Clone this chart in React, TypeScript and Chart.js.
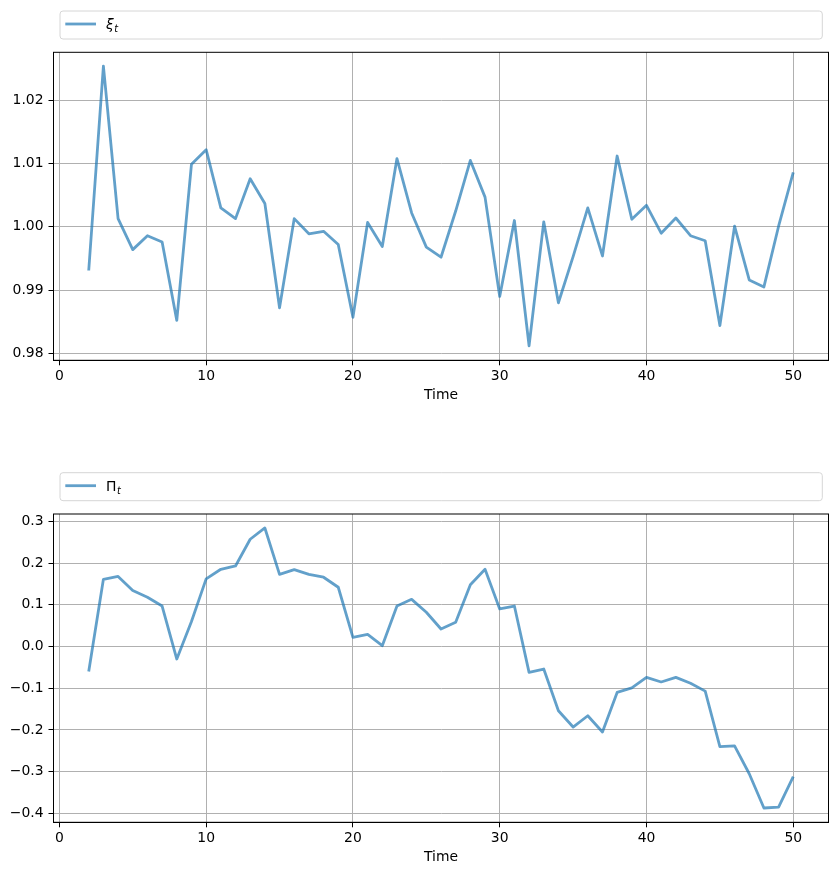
import React, { useEffect, useRef } from "react";
import { Chart, registerables } from "chart.js";

Chart.register(...registerables);

// ---------- data ----------
const timeSteps = [
  2, 3, 4, 5, 6, 7, 8, 9, 10, 11, 12, 13, 14, 15, 16, 17, 18, 19, 20, 21, 22, 23, 24, 25, 26,
  27, 28, 29, 30, 31, 32, 33, 34, 35, 36, 37, 38, 39, 40, 41, 42, 43, 44, 45, 46, 47, 48, 49, 50,
];

const xiValues = [
  0.9931, 1.0254, 1.0013, 0.9964, 0.9986, 0.9976, 0.9852, 1.0099, 1.0122, 1.003, 1.0013, 1.0076,
  1.0037, 0.9872, 1.0013, 0.9989, 0.9993, 0.9972, 0.9857, 1.0007, 0.9969, 1.0108, 1.0022, 0.9968,
  0.9952, 1.0025, 1.0105, 1.0047, 0.989, 1.001, 0.9812, 1.0008, 0.988, 0.9953, 1.003, 0.9954,
  1.0112, 1.0012, 1.0034, 0.999, 1.0014, 0.9986, 0.9978, 0.9844, 1.0001, 0.9916, 0.9905, 1.0001,
  1.0086,
];

const piValues = [
  -0.06, 0.161, 0.168, 0.134, 0.118, 0.097, -0.03, 0.06, 0.162, 0.185, 0.193, 0.257, 0.284, 0.173,
  0.184, 0.173, 0.166, 0.142, 0.022, 0.029, 0.002, 0.097, 0.113, 0.082, 0.042, 0.058, 0.148, 0.185,
  0.09, 0.097, -0.062, -0.054, -0.154, -0.193, -0.166, -0.205, -0.11, -0.099, -0.074, -0.085,
  -0.074, -0.088, -0.107, -0.24, -0.238, -0.305, -0.387, -0.385, -0.312,
];

const xTickValues = [0, 10, 20, 30, 40, 50];
const xiTickValues = [0.98, 0.99, 1.0, 1.01, 1.02];
const piTickValues = [-0.4, -0.3, -0.2, -0.1, 0.0, 0.1, 0.2, 0.3];

const xAxisTitle = "Time";

// ---------- styling ----------
const FONT = '"DejaVu Sans", "Liberation Sans", sans-serif';
const FONT_SIZE = 13.9;
const LINE_COLOR = "rgba(31,119,180,0.7)";

type PanelProps = {
  values: number[];
  yTicks: number[];
  yMin: number;
  yMax: number;
  decimals: number;
  legendMain: string;
  legendItalic: boolean;
  canvasTop: number;
  canvasHeight: number;
  padTop: number;
  xAxisHeight: number;
  titlePadBottom: number;
};

const fmt = (v: number, d: number) => {
  const s = Math.abs(v).toFixed(d);
  return v < -1e-9 ? "\u2212" + s : s;
};

function Panel(p: PanelProps) {
  const ref = useRef<HTMLCanvasElement | null>(null);

  useEffect(() => {
    if (!ref.current) return;

    const framePlugin = {
      id: "frameAndLegend",
      afterDraw(chart: any) {
        const ctx = chart.ctx as CanvasRenderingContext2D;
        const { left, right, top, bottom } = chart.chartArea;
        ctx.save();
        // spines
        ctx.strokeStyle = "#000";
        ctx.lineWidth = 1;
        ctx.strokeRect(left, top, right - left, bottom - top);

        // legend box
        const bx = left + 6.5;
        const bw = right - 6.2 - bx;
        const by = top - 41.3;
        const bh = 28;
        ctx.beginPath();
        (ctx as any).roundRect(bx, by, bw, bh, 3);
        ctx.fillStyle = "rgba(255,255,255,0.8)";
        ctx.fill();
        ctx.strokeStyle = "#d6d6d6";
        ctx.lineWidth = 1;
        ctx.stroke();

        // legend line sample
        ctx.beginPath();
        ctx.moveTo(bx + 5.3, by + 13);
        ctx.lineTo(bx + 36, by + 13);
        ctx.strokeStyle = LINE_COLOR;
        ctx.lineWidth = 2.8;
        ctx.lineCap = "butt";
        ctx.stroke();

        // legend label with subscript t
        const tx = bx + 46;
        const ty = by + 18.3;
        ctx.fillStyle = "#000";
        ctx.textBaseline = "alphabetic";
        ctx.textAlign = "left";
        ctx.font = `${p.legendItalic ? "italic " : ""}${FONT_SIZE}px ${FONT}`;
        ctx.fillText(p.legendMain, tx, ty);
        const w = ctx.measureText(p.legendMain).width;
        ctx.font = `italic ${FONT_SIZE * 0.7}px ${FONT}`;
        ctx.fillText("t", tx + w + 0.5, ty + 2.6);
        ctx.restore();
      },
    };

    const chart = new Chart(ref.current, {
      type: "line",
      data: {
        datasets: [
          {
            data: timeSteps.map((t, i) => ({ x: t, y: p.values[i] })),
            borderColor: LINE_COLOR,
            borderWidth: 2.8,
            pointRadius: 0,
            borderJoinStyle: "round",
            borderCapStyle: "butt",
            tension: 0,
            fill: false,
          },
        ],
      },
      options: {
        responsive: false,
        animation: false,
        events: [],
        layout: { padding: { top: p.padTop, right: 9.5, left: 0, bottom: 0 } },
        plugins: {
          legend: { display: false },
          tooltip: { enabled: false },
          title: { display: false },
        },
        scales: {
          x: {
            type: "linear",
            min: -0.4,
            max: 52.4,
            afterBuildTicks: (axis: any) => {
              axis.ticks = xTickValues.map((v) => ({ value: v }));
            },
            afterFit: (scale: any) => {
              scale.height = p.xAxisHeight;
            },
            grid: {
              color: "#b0b0b0",
              lineWidth: 1,
              tickColor: "#000",
              tickLength: 5,
              drawTicks: true,
            },
            border: { display: true, color: "#000", width: 1 },
            ticks: {
              color: "#000",
              font: { family: FONT, size: FONT_SIZE },
              padding: 3,
              maxRotation: 0,
              autoSkip: false,
              callback: (v: any) => String(v),
            },
            title: {
              display: true,
              text: xAxisTitle,
              color: "#000",
              font: { family: FONT, size: FONT_SIZE },
              padding: { top: 0, bottom: p.titlePadBottom },
            },
          },
          y: {
            type: "linear",
            min: p.yMin,
            max: p.yMax,
            afterBuildTicks: (axis: any) => {
              axis.ticks = p.yTicks.map((v) => ({ value: v }));
            },
            afterFit: (scale: any) => {
              scale.width = 53.5;
            },
            grid: {
              color: "#b0b0b0",
              lineWidth: 1,
              tickColor: "#000",
              tickLength: 5,
              drawTicks: true,
            },
            border: { display: true, color: "#000", width: 1 },
            ticks: {
              color: "#000",
              font: { family: FONT, size: FONT_SIZE },
              padding: 5,
              autoSkip: false,
              callback: (v: any) => fmt(Number(v), p.decimals),
            },
          },
        },
      },
      plugins: [framePlugin],
    } as any);

    return () => chart.destroy();
  }, []);

  return (
    <canvas
      ref={ref}
      width={838}
      height={p.canvasHeight}
      style={{
        position: "absolute",
        left: 0,
        top: p.canvasTop,
        width: 838,
        height: p.canvasHeight,
        display: "block",
      }}
    />
  );
}

export default function App() {
  return (
    <div
      style={{
        position: "absolute",
        left: 0,
        top: 0,
        width: 838,
        height: 875,
        background: "#fff",
      }}
    >
      <Panel
        values={xiValues}
        yTicks={xiTickValues}
        yMin={0.9789}
        yMax={1.0276}
        decimals={2}
        legendMain={"\u03BE"}
        legendItalic={true}
        canvasTop={0}
        canvasHeight={440}
        padTop={52.3}
        xAxisHeight={79.7}
        titlePadBottom={36.7}
      />
      <Panel
        values={piValues}
        yTicks={piTickValues}
        yMin={-0.4213}
        yMax={0.3175}
        decimals={1}
        legendMain={"\u03A0"}
        legendItalic={false}
        canvasTop={440}
        canvasHeight={435}
        padTop={74}
        xAxisHeight={52.7}
        titlePadBottom={9.7}
      />
    </div>
  );
}
